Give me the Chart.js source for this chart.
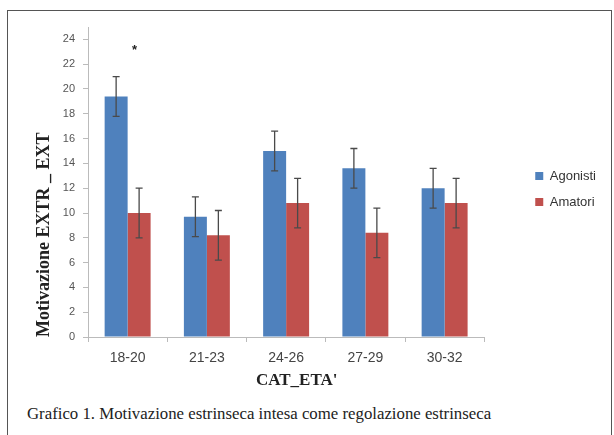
<!DOCTYPE html>
<html>
<head>
<meta charset="utf-8">
<script src="https://cdn.jsdelivr.net/npm/chart.js@4"></script>
<style>
    body { margin: 0; background: #fff; }
    #frame {
        position: absolute; left: 7px; top: 10px; width: 603px; height: 440px;
        border: 1px solid #555;
    }
    #wrap { position: absolute; left: 8px; top: 11px; width: 603px; height: 390px; }
    #caption {
        position: absolute; left: 27px; top: 404px;
        font-family: "Liberation Serif", serif; font-size: 16.8px; color: #222;
        white-space: nowrap;
    }
</style>
</head>
<body>
<div id="frame"></div>
<div id="wrap"><canvas id="chart"></canvas></div>
<div id="caption">Grafico 1. Motivazione estrinseca intesa come regolazione estrinseca</div>
<script>
const categories = ['18-20', '21-23', '24-26', '27-29', '30-32'];
const agonisti = [19.4, 9.7, 15.0, 13.6, 12.0];
const agonistiErr = [1.6, 1.6, 1.6, 1.6, 1.6];
const amatori = [10.0, 8.2, 10.8, 8.4, 10.8];
const amatoriErr = [2.0, 2.0, 2.0, 2.0, 2.0];
const yTicks = [0, 2, 4, 6, 8, 10, 12, 14, 16, 18, 20, 22, 24];
// significance marker above the first group
const starIndex = 0;
const starValue = 23;

const errors = [agonistiErr, amatoriErr];

const errorBars = {
    id: 'errorBars',
    afterDatasetsDraw(chart) {
        const ctx = chart.ctx;
        const y = chart.scales.y;
        ctx.save();
        ctx.strokeStyle = '#4a4a4a';
        ctx.lineWidth = 1.3;
        chart.data.datasets.forEach((ds, i) => {
            const meta = chart.getDatasetMeta(i);
            meta.data.forEach((bar, j) => {
                const v = ds.data[j];
                const e = errors[i][j];
                const top = y.getPixelForValue(v + e);
                const bot = y.getPixelForValue(v - e);
                ctx.beginPath();
                ctx.moveTo(bar.x, top);
                ctx.lineTo(bar.x, bot);
                ctx.moveTo(bar.x - 3.5, top);
                ctx.lineTo(bar.x + 3.5, top);
                ctx.moveTo(bar.x - 3.5, bot);
                ctx.lineTo(bar.x + 3.5, bot);
                ctx.stroke();
            });
        });
        // asterisk
        const x = chart.scales.x.getPixelForValue(starIndex) + 7;
        ctx.fillStyle = '#222';
        ctx.font = 'bold 13px "Liberation Sans"';
        ctx.textAlign = 'center';
        ctx.textBaseline = 'middle';
        ctx.fillText('*', x, y.getPixelForValue(starValue) - 1);
        ctx.restore();
    }
};

// move the legend away from the plot, like the Excel original
const legendOffset = {
    id: 'legendOffset',
    afterLayout(chart) {
        const lg = chart.legend;
        lg.left += 38; lg.right += 38;
        lg.top -= 23; lg.bottom -= 23;
    }
};

new Chart(document.getElementById('chart'), {
    type: 'bar',
    data: {
        labels: categories,
        datasets: [{
            label: 'Agonisti',
            data: agonisti,
            backgroundColor: '#4f81bd',
            borderColor: '#4f81bd'
        }, {
            label: 'Amatori',
            data: amatori,
            backgroundColor: '#c0504d',
            borderColor: '#c0504d'
        }]
    },
    options: {
        responsive: true,
        maintainAspectRatio: false,
        animation: false,
        categoryPercentage: 0.58,
        barPercentage: 1.0,
        layout: { padding: { left: 20, top: 16, right: 43, bottom: 4 } },
        scales: {
            x: {
                afterFit: s => { s.height = 60; },
                grid: { drawOnChartArea: false, tickLength: 5, color: '#bbb', offset: true },
                border: { color: '#bbb' },
                ticks: { color: '#444', font: { family: 'Liberation Sans', size: 14 }, padding: 8 },
                title: {
                    display: true, text: "     CAT_ETA'", color: '#222',
                    font: { family: 'Liberation Serif', size: 17, weight: 'bold' },
                    padding: { top: 0, bottom: 6 }
                }
            },
            y: {
                min: 0,
                max: 25,
                afterFit: s => { s.width = 60; },
                afterBuildTicks: s => { s.ticks = yTicks.map(v => ({ value: v })); },
                grid: { drawOnChartArea: false, tickLength: 5, color: '#bbb' },
                border: { color: '#bbb' },
                ticks: { color: '#555', font: { family: 'Liberation Sans', size: 11 }, padding: 8 },
                title: {
                    display: true, text: 'Motivazione EXTR _ EXT', color: '#222', align: 'start',
                    font: { family: 'Liberation Serif', size: 18, weight: 'bold' },
                    padding: { top: 6, bottom: 0 }
                }
            }
        },
        plugins: {
            legend: {
                position: 'right',
                labels: {
                    boxWidth: 8, boxHeight: 8, padding: 13, color: '#333',
                    font: { family: 'Liberation Sans', size: 13 }
                }
            },
            tooltip: { enabled: false }
        }
    },
    plugins: [errorBars, legendOffset]
});
</script>
</body>
</html>
